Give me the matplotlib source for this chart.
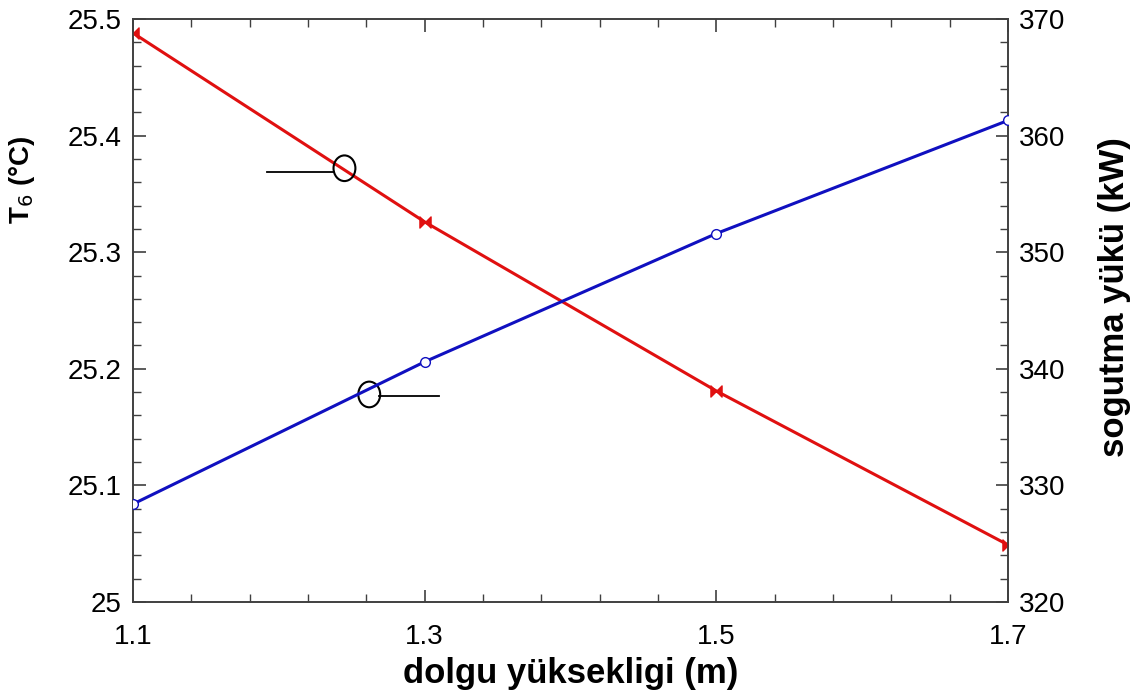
import numpy as np
import matplotlib.pyplot as plt
from matplotlib.path import Path
from matplotlib.patches import Ellipse
from matplotlib.ticker import MultipleLocator, FixedLocator, FuncFormatter

plt.rcParams['font.family'] = ['Liberation Sans', 'DejaVu Sans']

height = [1.1, 1.3, 1.5, 1.7]
t6 = [25.488, 25.326, 25.181, 25.049]
load = [328.4, 340.6, 351.6, 361.3]
x_ticks = [1.1, 1.3, 1.5, 1.7]

# bowtie marker: two triangles meeting at the centre
bowtie = Path([(-1, -1), (0, 0), (-1, 1), (-1, -1), (1, -1), (0, 0), (1, 1), (1, -1)],
              [Path.MOVETO, Path.LINETO, Path.LINETO, Path.CLOSEPOLY,
               Path.MOVETO, Path.LINETO, Path.LINETO, Path.CLOSEPOLY])

fig = plt.figure(figsize=(11.39, 6.9), dpi=100)
ax = fig.add_axes([133 / 1139, 88 / 690, 875 / 1139, 583 / 690])
ax2 = ax.twinx()

ax.plot(height, t6, color='#e01010', lw=2.2, marker=bowtie, ms=8, zorder=3)
ax2.plot(height, load, color='#1010c0', lw=2.2, marker='o', ms=7,
         mfc='white', mec='#1010c0', mew=1, zorder=3)

ax.set_xlim(1.1, 1.7)
ax.set_ylim(25, 25.5)
ax2.set_ylim(320, 370)

ax.xaxis.set_major_locator(FixedLocator(x_ticks))
ax.xaxis.set_minor_locator(FixedLocator(np.arange(1.1, 1.7001, 0.04)))
ax.yaxis.set_major_locator(MultipleLocator(0.1))
ax.yaxis.set_minor_locator(MultipleLocator(0.02))
ax2.yaxis.set_major_locator(MultipleLocator(10))
ax2.yaxis.set_minor_locator(MultipleLocator(2))

ax.yaxis.set_major_formatter(FuncFormatter(lambda v, p: f'{v:g}'))
ax.xaxis.set_major_formatter(FuncFormatter(lambda v, p: f'{v:.1f}'))

spine_c = '#404040'
for a in (ax, ax2):
    for s in a.spines.values():
        s.set_color(spine_c)
        s.set_linewidth(1.2)
    a.tick_params(which='both', direction='in', colors=spine_c, labelcolor='black',
                  labelsize=20, top=True)
    a.tick_params(which='major', length=9, width=1.2, pad=8)
    a.tick_params(which='minor', length=6, width=1.0)
ax.tick_params(which='both', right=False)
ax.tick_params(axis='x', which='major', pad=16)
ax2.tick_params(which='both', left=False, top=False)

ax.set_xlabel('dolgu yüksekligi (m)', fontsize=25, fontweight='bold')
ax.xaxis.set_label_coords(0.5, -0.095)
ax.set_ylabel('T$_6$ (°C)', fontsize=20, fontweight='bold')
ax.yaxis.set_label_coords(-0.11, 0.724)
ax2.set_ylabel('sogutma yükü (kW)', fontsize=25, fontweight='bold')
ax2.yaxis.set_label_coords(1.103, 0.523)

# ellipse callouts marking which axis each curve belongs to
ax.add_patch(Ellipse((1.245, 25.372), 0.015, 0.022, fill=False, ec='black', lw=1.5, zorder=4))
ax.plot([1.192, 1.238], [25.369, 25.369], color='black', lw=1.3, zorder=4)
ax.add_patch(Ellipse((1.262, 25.178), 0.015, 0.022, fill=False, ec='black', lw=1.5, zorder=4))
ax.plot([1.269, 1.31], [25.177, 25.177], color='black', lw=1.3, zorder=4)

fig.savefig('out.png', dpi=100)
